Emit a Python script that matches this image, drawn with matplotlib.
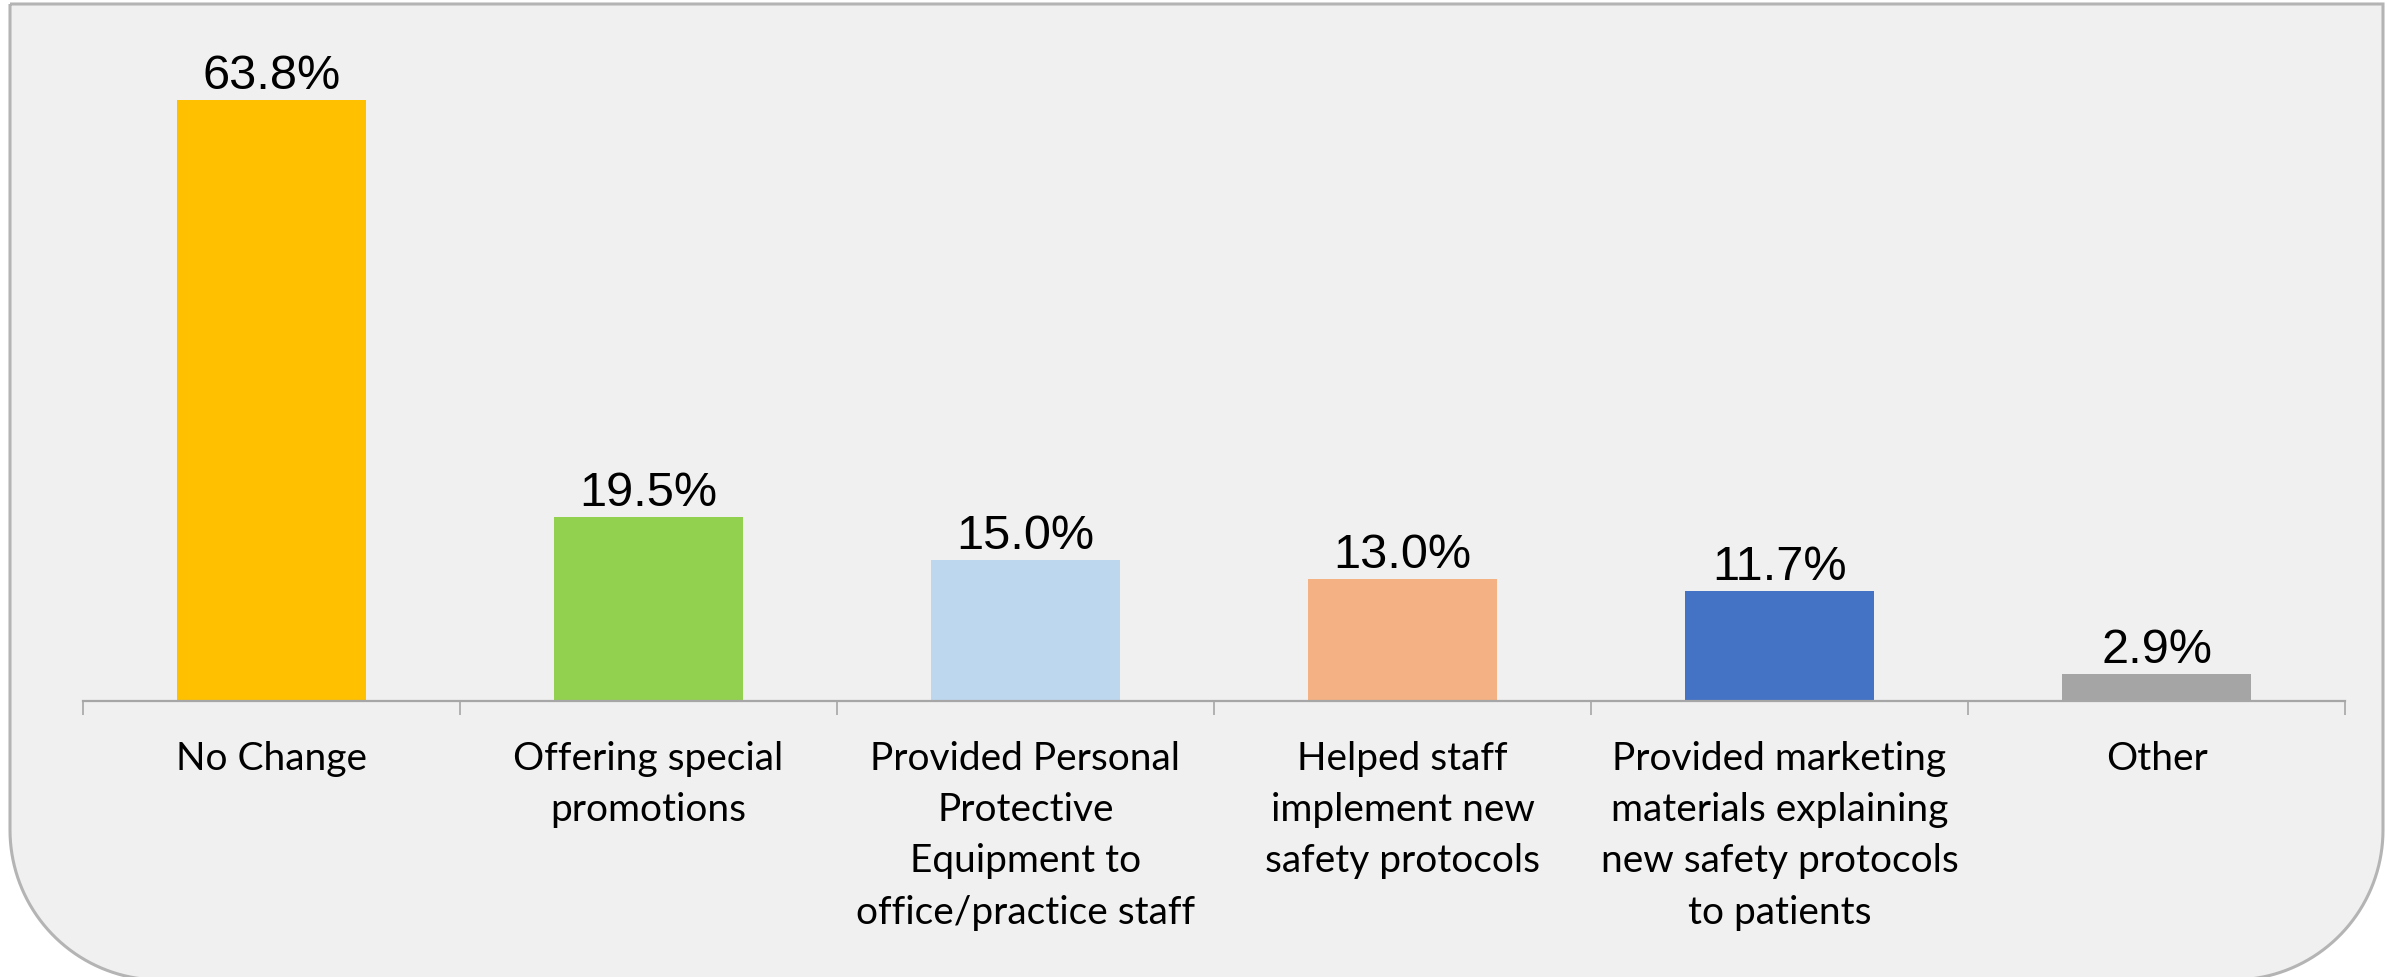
import matplotlib
matplotlib.use("Agg")
import matplotlib.pyplot as plt
from matplotlib.path import Path
from matplotlib.patches import PathPatch
import numpy as np

categories = [
    "No Change",
    "Offering special\npromotions",
    "Provided Personal\nProtective\nEquipment to\noffice/practice staff",
    "Helped staff\nimplement new\nsafety protocols",
    "Provided marketing\nmaterials explaining\nnew safety protocols\nto patients",
    "Other",
]
values = [63.8, 19.5, 15.0, 13.0, 11.7, 2.9]
bar_colors = ["#FFC000", "#92D050", "#BDD7EE", "#F4B183", "#4472C4", "#A5A5A5"]

W, H = 2387, 977
fig = plt.figure(figsize=(W / 100, H / 100), dpi=100)
fig.patch.set_facecolor("white")

# panel behind the chart: square top corners, rounded bottom corners (pixel units)
left, right, top, bottom, r = 10, 2383, 4, 980, 150
t = np.linspace(0, np.pi / 2, 40)
pts = [(left, top), (right, top), (right, bottom - r)]
pts += [(right - r + r * np.cos(a), bottom - r + r * np.sin(a)) for a in t]
pts += [(left + r - r * np.cos(a), bottom - r + r * np.sin(a)) for a in t[::-1]]
pts += [(left, top)]
pts = np.array(pts)
pts = np.column_stack([pts[:, 0] / W, 1 - pts[:, 1] / H])
panel = PathPatch(Path(pts), transform=fig.transFigure, facecolor="#F0F0F0",
                  edgecolor="#B4B4B4", linewidth=2.2, zorder=-5)
fig.patches.append(panel)

ax = fig.add_axes([83 / W, (H - 701) / H, (2345 - 83) / W, 659 / H])
ax.set_facecolor("none")
ax.set_zorder(1)

x = np.arange(len(values))
ax.bar(x, values, width=0.5, color=bar_colors, zorder=2)
for xi, v in zip(x, values):
    ax.text(xi, v + 0.1, f"{v:.1f}%", ha="center", va="bottom",
            fontsize=35, family="Liberation Sans", color="black")

ax.set_xlim(-0.5, len(values) - 0.5)
ax.set_ylim(0, 70)

for s in ["top", "left", "right"]:
    ax.spines[s].set_visible(False)
ax.spines["bottom"].set_color("#A6A6A6")
ax.spines["bottom"].set_linewidth(1.6)
ax.set_yticks([])

ax.set_xticks(np.arange(len(values) + 1) - 0.5)
ax.set_xticklabels([])
ax.tick_params(axis="x", which="major", length=10, width=1.2, color="#A6A6A6",
               direction="out")
ax.set_xticks(x, minor=True)
ax.set_xticklabels(categories, minor=True, fontsize=28, family="Lato",
                   linespacing=1.52, va="top")
ax.tick_params(axis="x", which="minor", length=0, pad=29)

fig.savefig("out.png", dpi=100)
